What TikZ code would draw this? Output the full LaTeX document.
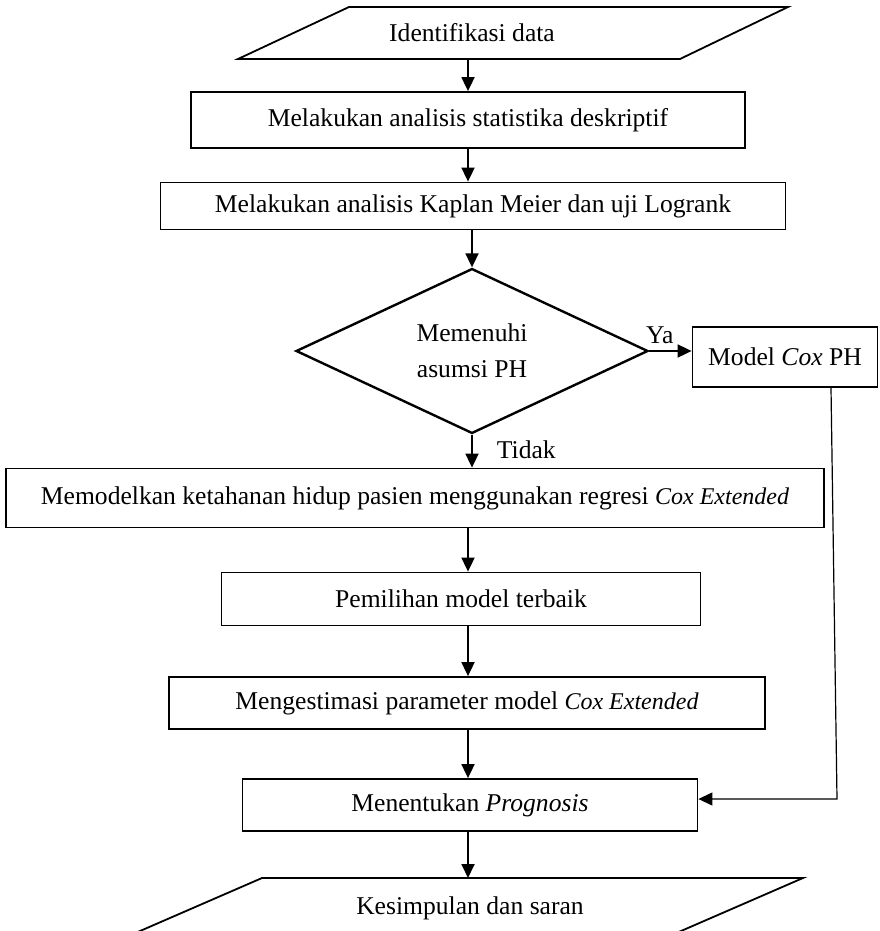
\documentclass[tikz,border=0pt]{standalone}
\usepackage{fontspec}
\setmainfont{Liberation Serif}
\usetikzlibrary{shapes.geometric,arrows.meta}

\begin{document}
\begin{tikzpicture}[x=0.5pt, y=-0.5pt,
    font=\fontsize{12.8}{15}\selectfont,
    box/.style={draw, shape=rectangle, line width=0.9pt, inner sep=0pt, align=center},
    decision/.style={draw, shape=diamond, line width=1.2pt, inner sep=0pt, align=center},
    io/.style={line width=0.9pt},
    arr/.style={line width=0.9pt, -{Triangle[length=7pt, width=6.5pt]}}]
    \def\px{0.5pt}
    \def\ital#1{{\fontsize{12}{14}\selectfont\itshape #1}}
    \useasboundingbox (0,0) rectangle (879,931);
    \clip (0,0) rectangle (879,931);
    \coordinate (axis) at (468,0);
    \draw[io] (349,7) -- (788,7) -- (680,59) -- (238,59) -- cycle;
    \node[] (identifikasi) at (472,33) {Identifikasi data};
    \coordinate (identifikasiOut) at (468,59);
    \node[box, minimum width=554*\px, minimum height=56*\px] (deskriptif) at (468,120) {Melakukan analisis statistika deskriptif};
    \node[box, minimum width=625*\px, minimum height=47*\px] (kaplan) at (473,206) {Melakukan analisis Kaplan Meier dan uji Logrank};
    \node[decision, minimum width=352*\px, minimum height=160*\px] (asumsi) at (472,351) {Memenuhi\\[3pt]asumsi PH};
    \node[box, minimum width=185*\px, minimum height=60*\px] (coxph) at (785,357) {Model \textit{Cox} PH};
    \node[box, minimum width=818*\px, minimum height=59*\px] (memodelkan) at (415,498) {Memodelkan ketahanan hidup pasien menggunakan regresi \ital{Cox Extended}};
    \node[box, minimum width=479*\px, minimum height=53*\px] (pemilihan) at (461,599) {Pemilihan model terbaik};
    \node[box, minimum width=596*\px, minimum height=52*\px] (estimasi) at (467,703) {Mengestimasi parameter model \ital{Cox Extended}};
    \node[box, minimum width=455*\px, minimum height=52*\px] (prognosis) at (470,805) {Menentukan \textit{Prognosis}};
    \draw[io] (117,941) -- (262,878) -- (803,878) -- (658,941);
    \node[] (kesimpulan) at (470,908) {Kesimpulan dan saran};
    \coordinate (kesimpulanIn) at (468,878);
    \coordinate (coxBend) at (837,799);
    \draw[arr] (identifikasiOut) -- (identifikasiOut |- deskriptif.north);
    \draw[arr] (deskriptif.south -| axis) -- (kaplan.north -| axis);
    \draw[arr] (kaplan.south -| asumsi.north) -- (asumsi.north);
    \draw[arr] (asumsi.east) -- (asumsi.east -| coxph.west) node[pos=0.25, above, yshift=2pt, inner sep=1pt] {Ya};
    \draw[arr] (asumsi.south) -- (asumsi.south |- memodelkan.north) node[pos=0.45, right=12pt, inner sep=0pt] {Tidak};
    \draw[arr] (memodelkan.south -| axis) -- (pemilihan.north -| axis);
    \draw[arr] (pemilihan.south -| axis) -- (estimasi.north -| axis);
    \draw[arr] (estimasi.south -| axis) -- (prognosis.north -| axis);
    \draw[arr] (prognosis.south -| axis) -- (kesimpulanIn);
    \draw[arr, line width=0.6pt] ([xshift=23pt]coxph.south) -- (coxBend) -- (coxBend -| prognosis.east);
\end{tikzpicture}
\end{document}
